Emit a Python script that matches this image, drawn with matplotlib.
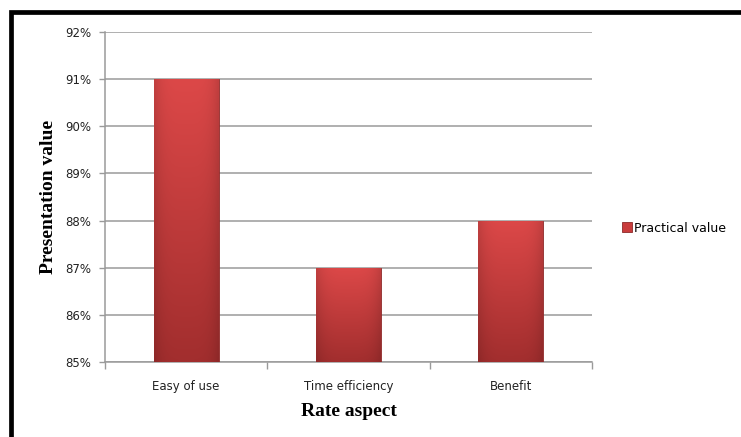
import numpy as np
import matplotlib.pyplot as plt
from matplotlib.patches import Rectangle
from matplotlib.colors import to_rgb

# 数据
categories = ["Easy of use", "Time efficiency", "Benefit"]
values = [91, 87, 88]
y_ticks = [85, 86, 87, 88, 89, 90, 91, 92]
series_name = "Practical value"

fig = plt.figure(figsize=(7.41, 4.37), dpi=100)
ax = fig.add_axes([0.1417, 0.1716, 0.6572, 0.7552])

x = np.arange(len(categories))
bars = ax.bar(x, values, width=0.4, bottom=0, color="#c93c3c",
              edgecolor="#8c2a2a", linewidth=0.6, zorder=3, label=series_name)

# 柱子渐变效果
top_c = np.array(to_rgb("#dc4848"))
bot_c = np.array(to_rgb("#a22e2e"))
t = np.linspace(0, 1, 64)[:, None]
h = np.linspace(-1, 1, 32)[None, :]
shade = 1 - 0.12 * np.abs(h) ** 4
for b in bars:
    grad = (top_c[None, None, :] * (1 - t[..., None]) + bot_c[None, None, :] * t[..., None])
    grad = grad * shade[..., None]
    x0, w = b.get_x(), b.get_width()
    im = ax.imshow(np.clip(grad, 0, 1), extent=[x0, x0 + w, 85, b.get_height()],
                   aspect="auto", zorder=3.5, interpolation="bilinear")
    im.set_clip_path(b)

ax.set_xlim(-0.5, len(categories) - 0.5)
ax.set_ylim(85, 92)
ax.set_yticks(y_ticks)
ax.set_yticklabels([f"{v}%" for v in y_ticks], fontsize=8.5, family="DejaVu Sans", color="#222222")
ax.yaxis.grid(True, color="#9a9a9a", linewidth=1.1, zorder=0)
ax.tick_params(axis="y", length=4, width=1, color="#9a9a9a", pad=6)

ax.set_xticks(np.arange(-0.5, len(categories), 1.0))
ax.set_xticklabels([])
ax.set_xticks(x, minor=True)
ax.set_xticklabels(categories, minor=True, fontsize=8.5, family="DejaVu Sans", color="#222222")
ax.tick_params(axis="x", which="minor", length=0, pad=13)
ax.tick_params(axis="x", which="major", length=5, width=1, color="#9a9a9a")

for s in ["top", "right"]:
    ax.spines[s].set_visible(False)
for s in ["left", "bottom"]:
    ax.spines[s].set_color("#9a9a9a")
    ax.spines[s].set_linewidth(1.1)

ax.set_xlabel("Rate aspect", fontsize=14, family="Liberation Serif", fontweight="bold", labelpad=7)
ax.set_ylabel("Presentation value", fontsize=14, family="Liberation Serif", fontweight="bold", labelpad=6)

fig.legend(handles=[bars], labels=[series_name], loc="center left",
           bbox_to_anchor=(0.824, 0.478), frameon=False,
           handlelength=0.8, handleheight=0.8, handletextpad=0.15,
           prop={"family": "DejaVu Sans", "size": 9})

# 外框
fig.patches.append(Rectangle((10.5 / 741, -0.1), 1.2, 1 - 12.5 / 437 + 0.1,
                             transform=fig.transFigure, fill=False,
                             edgecolor="black", linewidth=3.4, zorder=10))

fig.savefig("out.png", dpi=100)
